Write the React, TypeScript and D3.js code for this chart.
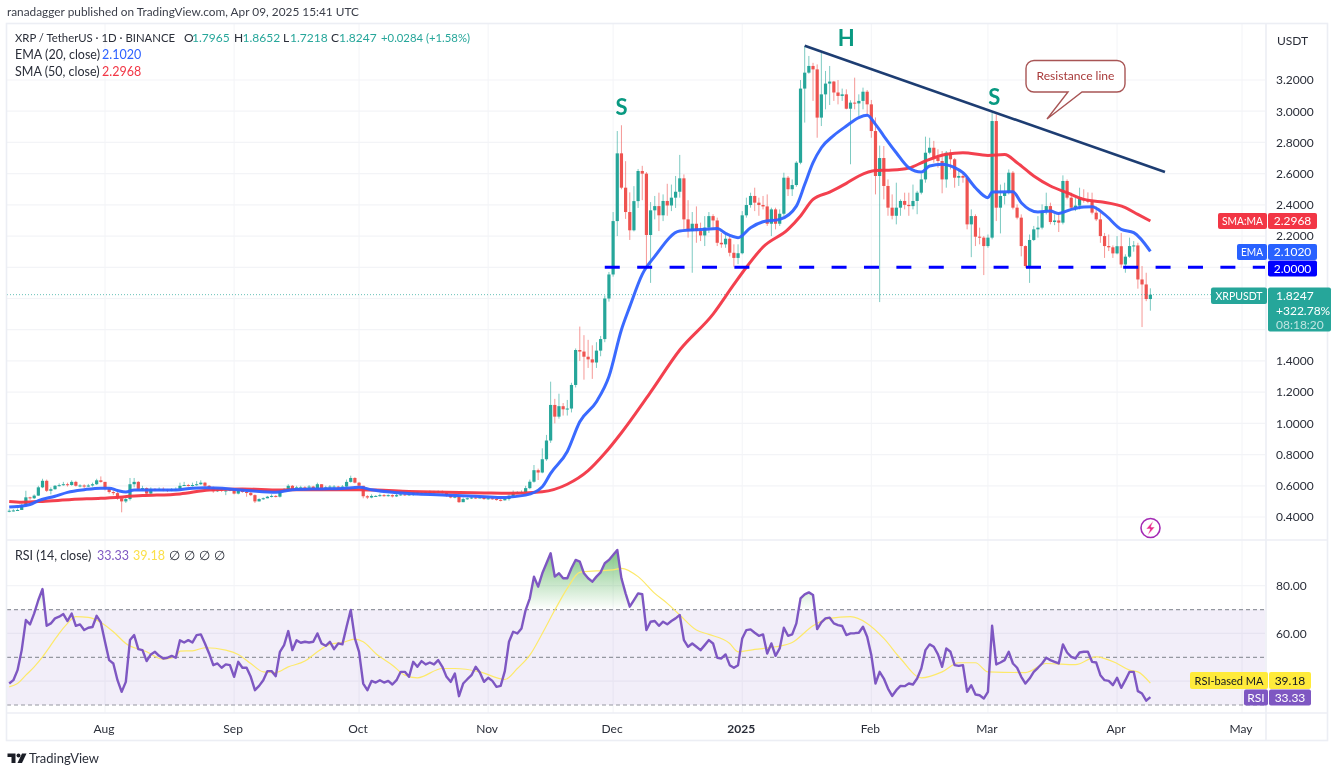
import React from "react";
import * as d3 from "d3";

const START = new Date(Date.UTC(2024, 6, 9));

const closes = [
  0.44,0.442,0.445,0.475,0.526,0.52,0.537,0.59,0.632,0.568,
  0.578,0.60,0.604,0.61,0.605,0.625,0.60,0.602,0.595,0.602,
  0.61,0.635,0.625,0.58,0.56,0.553,0.52,0.50,0.515,0.61,
  0.625,0.58,0.585,0.55,0.58,0.577,0.58,0.575,0.568,0.578,
  0.58,0.60,0.605,0.60,0.605,0.61,0.62,0.60,0.59,0.565,
  0.575,0.57,0.57,0.575,0.55,0.57,0.56,0.555,0.54,0.50,
  0.515,0.52,0.53,0.535,0.53,0.565,0.575,0.60,0.575,0.59,
  0.59,0.588,0.595,0.585,0.61,0.585,0.59,0.595,0.595,0.59,
  0.595,0.625,0.65,0.62,0.60,0.533,0.525,0.535,0.535,0.54,
  0.535,0.54,0.532,0.54,0.545,0.54,0.545,0.56,0.55,0.553,
  0.56,0.56,0.56,0.563,0.555,0.54,0.525,0.53,0.495,0.515,
  0.52,0.525,0.522,0.525,0.515,0.52,0.515,0.51,0.507,0.515,
  0.535,0.55,0.558,0.56,0.585,0.626,0.70,0.685,0.77,0.89,
  1.118,1.043,1.11,1.09,1.095,1.246,1.47,1.46,1.427,1.41,
  1.39,1.466,1.54,1.80,1.954,2.296,2.73,2.51,2.354,2.237,
  2.424,2.617,2.60,2.207,2.365,2.392,2.333,2.425,2.396,2.446,
  2.484,2.57,2.307,2.232,2.279,2.232,2.204,2.254,2.328,2.30,
  2.157,2.147,2.183,2.093,2.06,2.09,2.333,2.399,2.457,2.414,
  2.399,2.39,2.279,2.371,2.279,2.343,2.574,2.50,2.527,2.67,
  3.145,3.247,3.29,3.268,2.959,3.108,3.177,3.19,3.12,3.098,
  3.108,3.016,3.055,3.05,3.066,3.125,3.044,2.873,2.585,2.70,
  2.521,2.382,2.33,2.382,2.425,2.40,2.392,2.425,2.478,2.563,
  2.734,2.766,2.702,2.681,2.563,2.734,2.692,2.574,2.585,2.574,
  2.275,2.328,2.196,2.19,2.136,2.19,2.937,2.382,2.457,2.478,
  2.606,2.382,2.318,2.136,2.008,2.175,2.243,2.254,2.36,2.392,
  2.29,2.30,2.286,2.553,2.446,2.382,2.395,2.44,2.43,2.42,
  2.35,2.307,2.20,2.136,2.128,2.089,2.135,2.018,2.068,2.136,
  2.14,1.922,1.89,1.7965,1.8247,
];

const highs = [
  0.45,0.45,0.455,0.485,0.568,0.53,0.545,0.60,0.645,0.64,
  0.59,0.605,0.615,0.625,0.62,0.635,0.632,0.61,0.61,0.612,
  0.62,0.645,0.66,0.625,0.585,0.57,0.56,0.52,0.525,0.65,
  0.65,0.63,0.60,0.59,0.59,0.585,0.59,0.59,0.58,0.585,
  0.59,0.62,0.625,0.612,0.62,0.63,0.635,0.625,0.605,0.595,
  0.58,0.585,0.58,0.585,0.58,0.578,0.58,0.565,0.56,0.545,
  0.52,0.525,0.535,0.545,0.54,0.575,0.585,0.61,0.605,0.60,
  0.60,0.598,0.605,0.60,0.62,0.61,0.60,0.605,0.605,0.60,
  0.605,0.64,0.665,0.655,0.625,0.60,0.54,0.545,0.54,0.55,
  0.548,0.545,0.545,0.548,0.55,0.55,0.55,0.565,0.565,0.56,
  0.565,0.57,0.568,0.57,0.57,0.56,0.545,0.54,0.535,0.525,
  0.525,0.53,0.53,0.532,0.53,0.525,0.525,0.52,0.515,0.52,
  0.545,0.57,0.565,0.57,0.60,0.64,0.733,0.71,0.84,0.926,
  1.267,1.157,1.19,1.13,1.15,1.26,1.48,1.62,1.565,1.535,
  1.50,1.52,1.56,1.82,1.97,2.354,2.873,2.91,2.68,2.48,
  2.52,2.63,2.65,2.61,2.418,2.457,2.478,2.467,2.535,2.53,
  2.585,2.72,2.595,2.43,2.354,2.39,2.286,2.328,2.354,2.34,
  2.318,2.22,2.21,2.20,2.147,2.147,2.36,2.446,2.478,2.51,
  2.446,2.457,2.467,2.382,2.382,2.371,2.606,2.585,2.563,2.68,
  3.20,3.418,3.354,3.31,3.30,3.375,3.258,3.29,3.194,3.20,
  3.145,3.14,3.07,3.215,3.108,3.151,3.136,3.072,2.96,2.78,
  2.777,2.563,2.467,2.542,2.435,2.478,2.478,2.53,2.49,2.60,
  2.837,2.83,2.81,2.756,2.745,2.745,2.756,2.70,2.617,2.606,
  2.585,2.371,2.339,2.254,2.20,2.21,2.99,2.98,2.53,2.542,
  2.627,2.617,2.403,2.339,2.14,2.21,2.265,2.328,2.403,2.478,
  2.414,2.34,2.35,2.589,2.563,2.478,2.446,2.51,2.50,2.48,
  2.478,2.39,2.35,2.22,2.21,2.14,2.20,2.22,2.083,2.19,
  2.168,2.157,2.008,1.965,1.8652,
];

const lows = [
  0.43,0.435,0.44,0.45,0.47,0.51,0.515,0.535,0.585,0.56,
  0.545,0.575,0.595,0.60,0.595,0.60,0.595,0.59,0.585,0.592,
  0.595,0.605,0.62,0.57,0.55,0.54,0.51,0.43,0.49,0.505,
  0.59,0.57,0.57,0.54,0.545,0.565,0.57,0.565,0.56,0.565,
  0.57,0.575,0.60,0.595,0.595,0.60,0.605,0.59,0.58,0.555,
  0.56,0.56,0.54,0.565,0.545,0.545,0.555,0.53,0.535,0.49,
  0.505,0.51,0.52,0.525,0.525,0.525,0.56,0.57,0.57,0.57,
  0.58,0.58,0.585,0.58,0.58,0.58,0.582,0.585,0.588,0.58,
  0.585,0.59,0.62,0.615,0.585,0.52,0.515,0.52,0.53,0.53,
  0.53,0.53,0.525,0.528,0.535,0.535,0.535,0.535,0.54,0.545,
  0.55,0.555,0.55,0.555,0.55,0.53,0.52,0.52,0.49,0.50,
  0.51,0.515,0.515,0.52,0.51,0.51,0.51,0.505,0.50,0.505,
  0.505,0.53,0.55,0.55,0.555,0.578,0.62,0.637,0.68,0.76,
  0.875,1.0,1.03,1.05,1.05,1.07,1.23,1.40,1.28,1.355,
  1.285,1.355,1.43,1.52,1.78,1.94,2.20,2.50,2.31,2.175,
  2.23,2.38,2.43,2.0,1.90,2.307,2.232,2.296,2.33,2.36,
  2.38,2.446,2.243,2.19,1.965,2.157,2.168,2.136,2.22,2.243,
  2.136,2.125,2.125,2.07,2.004,2.02,2.083,2.318,2.382,2.36,
  2.33,2.371,2.265,2.20,2.243,2.265,2.33,2.457,2.457,2.516,
  2.66,2.927,3.24,3.066,2.83,2.905,3.012,3.04,3.066,3.044,
  3.066,3.012,2.66,3.012,2.97,3.012,2.97,2.83,2.467,1.777,
  2.435,2.33,2.307,2.275,2.33,2.371,2.33,2.371,2.34,2.467,
  2.542,2.724,2.67,2.638,2.474,2.51,2.627,2.51,2.521,2.542,
  2.243,2.065,2.136,2.147,1.95,2.125,2.179,2.296,2.217,2.403,
  2.467,2.371,2.307,2.07,1.997,1.90,2.168,2.19,2.243,2.339,
  2.275,2.27,2.226,2.275,2.435,2.371,2.36,2.371,2.414,2.41,
  2.339,2.296,2.157,2.06,2.104,2.06,2.083,1.997,1.965,2.06,
  2.10,1.863,1.617,1.783,1.7218,
];

const firstOpen = 0.435;

const emaDays = [0,2,5,7,11,14,18,22,24,26,28,30,34,40,44,47,53,58,64,68,75,80,84,87,92,98,105,112,118,124,128,130,134,137,141,144,147,149,152,155,161,167,170,172,175,178,181,185,189,191,193,195,198,201,204,206,208,210,213,216,219,221,224,227,229,232,235,236,241,243,247,250,252,255,258,260,263,267,270,274];
const emaValues = [0.464,0.468,0.48,0.505,0.533,0.558,0.575,0.585,0.585,0.57,0.56,0.573,0.573,0.573,0.585,0.587,0.58,0.568,0.558,0.575,0.58,0.583,0.59,0.575,0.558,0.547,0.54,0.533,0.525,0.54,0.594,0.68,0.82,1.01,1.139,1.3,1.6,1.748,1.955,2.07,2.232,2.243,2.249,2.217,2.19,2.254,2.292,2.307,2.392,2.53,2.67,2.766,2.845,2.905,2.959,2.974,2.916,2.841,2.734,2.638,2.61,2.649,2.66,2.638,2.606,2.51,2.446,2.482,2.484,2.414,2.354,2.36,2.345,2.371,2.386,2.388,2.339,2.243,2.222,2.102];

const smaDays = [0,3,8,15,22,32,41,48,56,65,71,84,88,96,105,114,120,128,134,139,143,147,154,161,169,174,177,181,187,190,193,197,201,204,208,212,216,220,225,229,235,239,242,246,250,254,258,262,268,271,274];
const smaValues = [0.50,0.495,0.50,0.512,0.52,0.537,0.548,0.573,0.58,0.573,0.575,0.575,0.573,0.564,0.558,0.554,0.552,0.562,0.61,0.697,0.808,0.94,1.20,1.47,1.70,1.89,2.0,2.13,2.243,2.329,2.435,2.482,2.538,2.585,2.62,2.623,2.636,2.681,2.724,2.734,2.717,2.722,2.67,2.585,2.521,2.478,2.435,2.42,2.382,2.339,2.2968];

const rsiValues = [
  39,40.4,44.6,53,65.6,63.8,68.4,74,78.6,63.2,
  64.2,66.3,67,68.1,65.2,68.3,63.2,63.8,61.4,62.4,
  62.7,67.4,64.6,56.5,48.8,47.4,40.4,35.5,39.7,57.2,
  59.3,53.4,53,48.4,51.2,52.3,50.6,49.5,49.8,50.6,
  49.8,57.1,56.2,57.2,56.2,59.3,59.6,55.8,51.6,46.7,
  47.4,45.6,47,46.7,41.8,48.1,45.6,45.6,41.8,36.2,
  38,40.4,44.2,44.2,42.1,52.3,55.1,61,53,57.1,
  56.1,56.5,56.2,56.5,60,55.8,54.8,56.5,53.4,55.8,
  55.4,62.8,69.8,57.9,52.3,39,36.2,40.1,39.4,40.4,
  39.4,40.1,38.6,40.4,43.9,43.9,41.8,48.1,46,48.4,
  47,47.8,47,48.8,46,41.8,39.7,43.2,33.7,39,
  40.8,42.5,46,43.6,39.7,41.4,40.1,37.6,38,44.2,
  56.5,60.7,60,62.1,69.8,74.7,83.8,79.6,85.2,89.4,
  93.6,83.8,85.2,83.1,83.1,87.3,90.8,90.1,85.2,83.1,
  81.7,83.8,85.6,89.4,90.8,92.9,95,83.1,76.8,71.2,
  74,76.8,76.4,61.4,64.9,65.2,63.2,64.9,63.8,65.2,
  66.3,67.7,57.2,54.4,55.8,54.4,53,55.1,57.2,55.8,
  49.8,49.5,51.2,46.7,45.6,46.7,57.9,61.4,61.7,60.3,
  59,59.6,51.6,55.8,50.6,53.7,62.4,59,59.6,64.2,
  74.7,76.4,77.2,76.1,61.8,64.6,66.3,66.6,64.2,63.5,
  63.1,59.3,60,60.1,60.3,62.8,58.6,50.9,39,43.9,
  41.1,36.9,33.8,36.2,38,37.9,39,38.6,41.1,45.3,
  53,55.4,54.4,51.2,46,53.7,52.3,46.7,46.4,46.7,
  35.5,38.3,34.4,34.1,32.7,35.5,63.2,47,47.8,48.8,
  52.3,47.4,45.6,41.8,39,41.1,43.9,45.6,47.4,49.8,
  48.8,48.1,47.4,55.4,52,50.2,49.5,52,52.3,52.3,
  48.1,47.8,42.5,40.4,40.1,38.3,41.4,37.2,40.4,43.9,
  43.9,35.8,34.8,31.8,33.33,
];

const rsiMaDays = [0,2,4,6,8,10,12,14,16,19,22,25,28,33,37,40,41,44,47,52,55,58,61,64,67,71,74,77,80,83,85,88,92,95,98,104,107,113,119,122,125,128,131,134,137,141,145,147,151,155,158,161,165,168,173,175,179,184,188,193,197,202,206,210,214,219,224,228,232,235,244,249,256,261,266,269,271,274];
const rsiMaValues = [37.6,39,42.5,46,50.2,55.1,60,64.2,67,66.7,64.6,60.7,55.8,52.3,49.2,50.2,52.6,52.7,54,53,51.2,47.4,43.9,43.6,46,48.4,52.3,55.4,56.2,57.6,56.5,51.6,46.7,42.5,41.4,45.3,45.3,43.9,40.7,45.3,50.9,60,69.8,78.9,85.6,86.2,86.6,87.3,83.8,76.8,72.6,67.7,61.4,59.6,55.8,52.3,53.3,54.4,56.2,63.2,66.3,67,64.2,57.9,49.5,41.4,43.9,47.7,47.7,43.9,43.6,47.4,46.9,50.2,47.4,44.6,43.9,39.18];

const priceTicks = [0.4,0.6,0.8,1.0,1.2,1.4,1.6,1.8,2.0,2.2,2.4,2.6,2.8,3.0,3.2];
const priceLabels = [0.4,0.6,0.8,1.0,1.2,1.4,2.2,2.4,2.6,2.8,3.0,3.2];
const rsiGrid = [80,60,40];
const rsiDashed = [70,50,30];
const rsiLabels = [80,60];
const monthTicks: [Date,string][] = [
  [new Date(Date.UTC(2024,7,1)),"Aug"],[new Date(Date.UTC(2024,8,1)),"Sep"],[new Date(Date.UTC(2024,9,1)),"Oct"],
  [new Date(Date.UTC(2024,10,1)),"Nov"],[new Date(Date.UTC(2024,11,1)),"Dec"],[new Date(Date.UTC(2025,0,1)),"2025"],
  [new Date(Date.UTC(2025,1,1)),"Feb"],[new Date(Date.UTC(2025,2,1)),"Mar"],[new Date(Date.UTC(2025,3,1)),"Apr"],[new Date(Date.UTC(2025,4,1)),"May"],
];
const necklinePrice = 2.0;
const necklineStartDay = 143;
const trendStart = { day: 191, price: 3.42 };
const trendEnd = { day: 277.5, price: 2.61 };
const patternLabels = [
  { text: "S", day: 147, price: 2.99 },
  { text: "H", day: 201, price: 3.43 },
  { text: "S", day: 236.5, price: 3.05 },
];

const GREEN = "#26a69a", RED = "#ef5350", BLUE = "#2f62ff", SMA_RED = "#f23645", PURPLE = "#7e57c2";
const FONT = "Lato,'Open Sans',sans-serif";
const TXT = "#2a2e39";
const GRID = "#f3f4f7";
const L = 7, AXIS = 1265, R = 1328, T = 24, PANE = 540, RSI_B = 713, B = 741;

const x = d3.scaleUtc().domain([new Date(Date.UTC(2024,7,1)), new Date(Date.UTC(2025,4,1))]).range([105,1242]);
const xd = (d: number) => x(START.getTime() + d * 864e5);
const y = d3.scaleLinear().domain([0.4,3.2]).range([517,80]);
const ry = d3.scaleLinear().domain([30,80]).range([705,585.7]);
const fmt4 = d3.format(".4f");

const knotLine = (days: number[], vals: number[], sy: (v:number)=>number) =>
  d3.line<number>().x((_, i) => xd(days[i])).y(v => sy(v)).curve(d3.curveMonotoneX)(vals) || "";

const Tag = ({x0,x1,y0,y1,fill,text,color="#fff",size=12,fit}:any) => (
  <g>
    <rect x={x0} y={y0} width={x1-x0} height={y1-y0} rx={2} fill={fill}/>
    <text x={(x0+x1)/2} y={(y0+y1)/2+4.2} textAnchor="middle" fontSize={size} fill={color} textLength={fit} lengthAdjust={fit?"spacingAndGlyphs":undefined}>{text}</text>
  </g>
);

export default function App() {
  const days = closes.map((_, i) => i);
  const opens = closes.map((_, i) => (i === 0 ? firstOpen : closes[i-1]));
  const rsiLine = d3.line<number>().x((_, i) => xd(i)).y(v => ry(v))(rsiValues) || "";
  const rsiArea = d3.area<number>().x((_, i) => xd(i)).y0(ry(70)).y1(v => ry(Math.max(v,70)))(rsiValues) || "";
  const cy = y(closes[closes.length-1]);
  return (
    <svg width={1336} height={774} style={{position:"fixed",left:0,top:0,background:"#fff",filter:"blur(0.35px)"}} fontFamily={FONT}>
      <defs>
        <clipPath id="main"><rect x={L} y={T} width={AXIS-L} height={PANE-T}/></clipPath>
        <linearGradient id="ob" gradientUnits="userSpaceOnUse" x1="0" x2="0" y1={ry(96)} y2={ry(70)}>
          <stop offset="0" stopColor="#4caf50" stopOpacity={0.75}/>
          <stop offset="1" stopColor="#4caf50" stopOpacity={0}/>
        </linearGradient>
      </defs>

      <text x={7} y={15.5} fontSize={12} fill="#3a3e49" textLength={352} lengthAdjust="spacingAndGlyphs">ranadagger published on TradingView.com, Apr 09, 2025 15:41 UTC</text>

      {priceTicks.map(t => <line key={t} x1={L} x2={AXIS} y1={y(t)} y2={y(t)} stroke={GRID} strokeWidth={1.2}/>)}
      {rsiGrid.map(t => <line key={t} x1={L} x2={AXIS} y1={ry(t)} y2={ry(t)} stroke={GRID} strokeWidth={1.2}/>)}
      {monthTicks.map(([d]) => <g key={+d}>
        <line x1={x(d)} x2={x(d)} y1={T} y2={PANE} stroke={GRID}/>
        <line x1={x(d)} x2={x(d)} y1={PANE} y2={RSI_B} stroke={GRID}/>
      </g>)}

      <g clipPath="url(#main)">
        {days.map(i => {
          const up = closes[i] >= opens[i];
          const c = up ? GREEN : RED;
          const top = y(Math.max(opens[i], closes[i]));
          const bot = y(Math.min(opens[i], closes[i]));
          return <g key={i}>
            <line x1={xd(i)} x2={xd(i)} y1={y(Math.max(highs[i],opens[i],closes[i]))} y2={y(Math.min(lows[i],opens[i],closes[i]))} stroke={c} strokeOpacity={0.6} strokeWidth={1}/>
            <rect x={xd(i)-1.6} width={3.2} y={top} height={Math.max(bot-top,1)} fill={c}/>
          </g>;
        })}
        <line x1={L} x2={AXIS} y1={cy} y2={cy} stroke={GREEN} strokeOpacity={0.7} strokeDasharray="1 2" strokeWidth={1}/>
        <path d={knotLine(smaDays, smaValues, y)} fill="none" stroke={SMA_RED} strokeWidth={3} strokeLinejoin="round" strokeOpacity={0.95}/>
        <path d={knotLine(emaDays, emaValues, y)} fill="none" stroke={BLUE} strokeWidth={3} strokeLinejoin="round" strokeOpacity={0.95}/>
        <line x1={xd(necklineStartDay)} x2={AXIS} y1={y(necklinePrice)} y2={y(necklinePrice)} stroke="#0000ff" strokeWidth={3} strokeDasharray="15 17.4"/>
        <line x1={xd(trendStart.day)} y1={y(trendStart.price)} x2={xd(trendEnd.day)} y2={y(trendEnd.price)} stroke="#1d3d72" strokeWidth={2.6}/>
        {patternLabels.map((l,i) => <text key={i} x={xd(l.day)} y={y(l.price)+2} textAnchor="middle" fontSize={22} fontWeight={700} fill="#089981">{l.text}</text>)}
      </g>

      <path d="M1034 60.5H1117a8 8 0 0 1 8 8V84a8 8 0 0 1-8 8H1082L1047 119L1068 92H1034a8 8 0 0 1-8-8V68.5a8 8 0 0 1 8-8Z" fill="#fff" stroke="#a85555" strokeWidth={1.4}/>
      <text x={1075.5} y={80} textAnchor="middle" fontSize={11.5} fill="#a83a3a" textLength={78} lengthAdjust="spacingAndGlyphs">Resistance line</text>

      <g>
        <circle cx={1150.5} cy={528} r={9.5} fill="none" stroke="#a42bb5" strokeWidth={1.6}/>
        <path d="M1153.5 520.5L1146 529H1150L1147.5 535.5L1155 527H1151Z" fill="#ea2a8d" stroke="#fff" strokeWidth={0.6}/>
      </g>

      <text x={15} y={42} fontSize={12} fill={TXT} textLength={160} lengthAdjust="spacingAndGlyphs">XRP / TetherUS · 1D · BINANCE</text>
      <text x={184} y={42} fontSize={12} fill={TXT}>O</text>
      <text x={192} y={42} fontSize={12} fill={GREEN}>1.7965</text>
      <text x={234} y={42} fontSize={12} fill={TXT}>H</text>
      <text x={242.5} y={42} fontSize={12} fill={GREEN}>1.8652</text>
      <text x={283} y={42} fontSize={12} fill={TXT}>L</text>
      <text x={290} y={42} fontSize={12} fill={GREEN}>1.7218</text>
      <text x={331} y={42} fontSize={12} fill={TXT}>C</text>
      <text x={339} y={42} fontSize={12} fill={GREEN}>1.8247</text>
      <text x={381} y={42} fontSize={12} fill={GREEN} textLength={89} lengthAdjust="spacingAndGlyphs">+0.0284 (+1.58%)</text>
      <text x={15} y={59} fontSize={12.5} fill={TXT}>EMA (20, close)</text>
      <text x={102} y={59} fontSize={12.5} fill={BLUE}>2.1020</text>
      <text x={15} y={75.5} fontSize={12.5} fill={TXT}>SMA (50, close)</text>
      <text x={102} y={75.5} fontSize={12.5} fill={SMA_RED}>2.2968</text>

      <rect x={L} y={ry(70)} width={AXIS-L} height={ry(30)-ry(70)} fill={PURPLE} fillOpacity={0.1}/>
      {rsiDashed.map(t => <line key={t} x1={L} x2={AXIS} y1={ry(t)} y2={ry(t)} stroke="#9598a1" strokeWidth={1.2} strokeDasharray="4 3"/>)}
      <path d={rsiArea} fill="url(#ob)"/>
      <path d={knotLine(rsiMaDays, rsiMaValues, ry)} fill="none" stroke="#fde96a" strokeWidth={1.2}/>
      <path d={rsiLine} fill="none" stroke={PURPLE} strokeWidth={2.4} strokeLinejoin="round"/>
      <text y={559.5} fontSize={12.5} fill={TXT}>
        <tspan x={15}>RSI (14, close)</tspan>
        <tspan x={97} fill={PURPLE}>33.33</tspan>
        <tspan x={133} fill="#fbe04a">39.18</tspan>
        <tspan x={169}>∅</tspan><tspan x={184}>∅</tspan><tspan x={199}>∅</tspan><tspan x={214}>∅</tspan>
      </text>

      <g fill="none" stroke="#eceef4" strokeWidth={1.6}>
        <rect x={L-0.5} y={T-0.5} width={R-L} height={B-T}/>
        <line x1={L} x2={R} y1={PANE} y2={PANE}/>
        <line x1={L} x2={R} y1={RSI_B} y2={RSI_B}/>
        <line x1={AXIS+1} x2={AXIS+1} y1={T} y2={B}/>
      </g>

      <text x={1277} y={45} fontSize={12} fill={TXT}>USDT</text>
      {priceLabels.map(t => <text key={t} x={1276} y={y(t)+4.3} fontSize={12} fill={TXT}>{fmt4(t)}</text>)}
      <Tag x0={1218} x1={1267} y0={213} y1={229} fill={SMA_RED} text="SMA:MA" fit={41}/>
      <Tag x0={1268} x1={1317} y0={213} y1={229} fill={SMA_RED} text="2.2968"/>
      <Tag x0={1237} x1={1267} y0={244} y1={260} fill="#2962ff" text="EMA" fit={22}/>
      <Tag x0={1268} x1={1317} y0={244} y1={260} fill="#2962ff" text="2.1020"/>
      <Tag x0={1268} x1={1317} y0={260.5} y1={276.5} fill="#0000ff" text="2.0000"/>
      <Tag x0={1211} x1={1267} y0={287.5} y1={304} fill={GREEN} text="XRPUSDT" fit={47}/>
      <rect x={1268} y={287.5} width={63} height={44} rx={2} fill={GREEN}/>
      <text x={1276} y={300} fontSize={12} fill="#fff">1.8247</text>
      <text x={1276} y={314.5} fontSize={12} fill="#fff">+322.78%</text>
      <text x={1276} y={329} fontSize={12} fill="#fff" fillOpacity={0.7}>08:18:20</text>

      {rsiLabels.map(t => <text key={t} x={1276} y={ry(t)+4.3} fontSize={12} fill={TXT}>{t.toFixed(2)}</text>)}
      <Tag x0={1190} x1={1268} y0={672} y1={689} fill="#ffeb3b" text="RSI-based MA" color="#131722" fit={69}/>
      <Tag x0={1269} x1={1311} y0={672} y1={689} fill="#ffeb3b" text="39.18" color="#131722"/>
      <Tag x0={1244} x1={1268} y0={689.5} y1={705.5} fill={PURPLE} text="RSI"/>
      <Tag x0={1269} x1={1311} y0={689.5} y1={705.5} fill={PURPLE} text="33.33"/>

      {monthTicks.map(([d,l]) => <text key={l} x={x(d)-1} y={733} textAnchor="middle" fontSize={12} fontWeight={l==="2025"?700:400} fill={TXT}>{l}</text>)}

      <path d="M7.5 753.5H15.5V763H11.5V757H7.5Z" fill="#1a1d26"/>
      <circle cx={18.5} cy={755.5} r={2} fill="#1a1d26"/>
      <path d="M22 753.5H26.5L22 763H17.5Z" fill="#1a1d26"/>
      <text x={29} y={763} fontSize={13} fill="#2a2e39" textLength={70} lengthAdjust="spacingAndGlyphs">TradingView</text>
    </svg>
  );
}
